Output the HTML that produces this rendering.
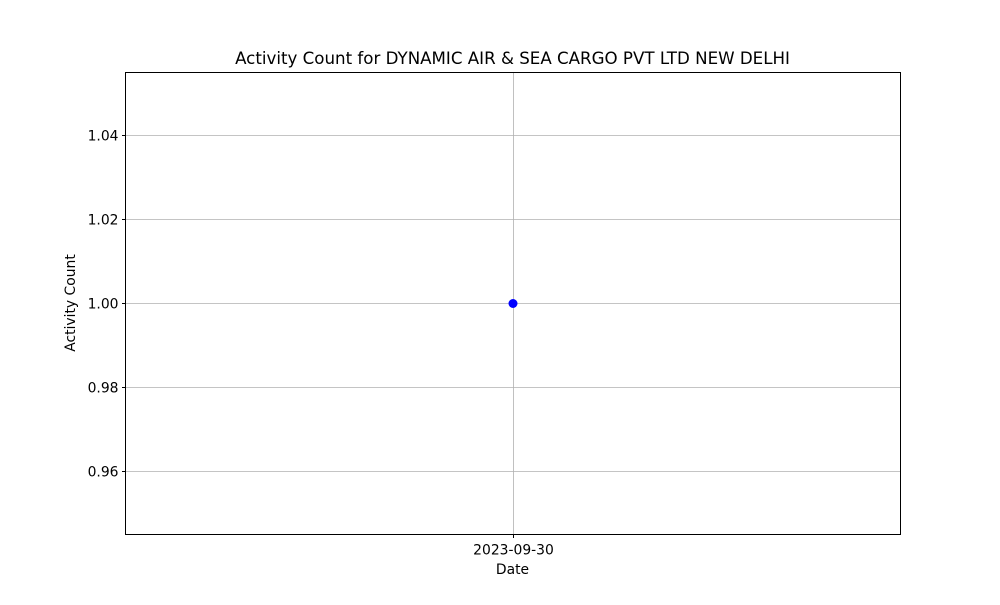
<!DOCTYPE html>
<html><head><meta charset="utf-8"><style>
body{margin:0;background:#fff;font-family:"Liberation Sans","DejaVu Sans",sans-serif}
</style></head><body>
<svg id="chart" width="1000" height="600" xmlns="http://www.w3.org/2000/svg" font-family="DejaVu Sans, Liberation Sans, sans-serif">
<rect width="1000" height="600" fill="#fff"/>
<text x="512.5" y="64" text-anchor="middle" font-size="16.67">Activity Count for DYNAMIC AIR &amp; SEA CARGO PVT LTD NEW DELHI</text>
<g id="grid"></g>
<g id="yticks"></g>
<g id="xticks"></g>
<g id="marks"></g>
<rect x="125.5" y="72.5" width="775" height="462" fill="none" stroke="#000" stroke-width="1"/>
<text x="512.5" y="574" text-anchor="middle" font-size="13.89">Date</text>
<text transform="translate(75,303) rotate(-90)" text-anchor="middle" font-size="13.89">Activity Count</text>
</svg>
<script>
const categories=["2023-09-30"];
const values=[1];
const yTicks=[0.96,0.98,1.00,1.02,1.04];
const yTickLabels=["0.96","0.98","1.00","1.02","1.04"];
const L=125.5,R=900.5,T=72.5,B=534.5,yMin=0.945,yMax=1.055;
const ns="http://www.w3.org/2000/svg";
function y(v){return B-(v-yMin)/(yMax-yMin)*(B-T);}
function x(i){const n=categories.length;return n===1?(L+R)/2:L+(R-L)*(0.05+0.9*i/(n-1));}
function mk(t,a,p){const e=document.createElementNS(ns,t);for(const k in a)e.setAttribute(k,a[k]);p.appendChild(e);return e;}
const grid=document.getElementById('grid'),yt=document.getElementById('yticks'),xt=document.getElementById('xticks'),marks=document.getElementById('marks');
yTicks.forEach((v,i)=>{const yy=Math.round(y(v))+0.5;
const g=mk('line',{x1:L,x2:R,y1:yy,y2:yy,stroke:'#b0b0b0','stroke-width':0.8},grid);


mk('line',{x1:L-3.5,x2:L,y1:yy,y2:yy,stroke:'#000'},yt);
const t=mk('text',{x:L-7,y:yy+5,'text-anchor':'end','font-size':'13.89'},yt);t.textContent=yTickLabels[i];

});
categories.forEach((c,i)=>{const xx=Math.round(x(i))+0.5;
const g=mk('line',{x1:xx,x2:xx,y1:T,y2:B,stroke:'#b0b0b0','stroke-width':0.8},grid);


mk('line',{x1:xx,x2:xx,y1:B,y2:B+3.5,stroke:'#000'},xt);
const t=mk('text',{x:xx,y:B+20,'text-anchor':'middle','font-size':'13.89'},xt);t.textContent=c;

});
if(values.length>1){let d='';values.forEach((v,i)=>{d+=(i?'L':'M')+x(i)+' '+y(v);});
const p=mk('path',{d:d,fill:'none',stroke:'blue','stroke-width':1.5},marks);

}
values.forEach((v,i)=>{const c=mk('circle',{cx:x(i),cy:y(v),r:4.5,fill:'blue'},marks);

});
</script>
</body></html>
